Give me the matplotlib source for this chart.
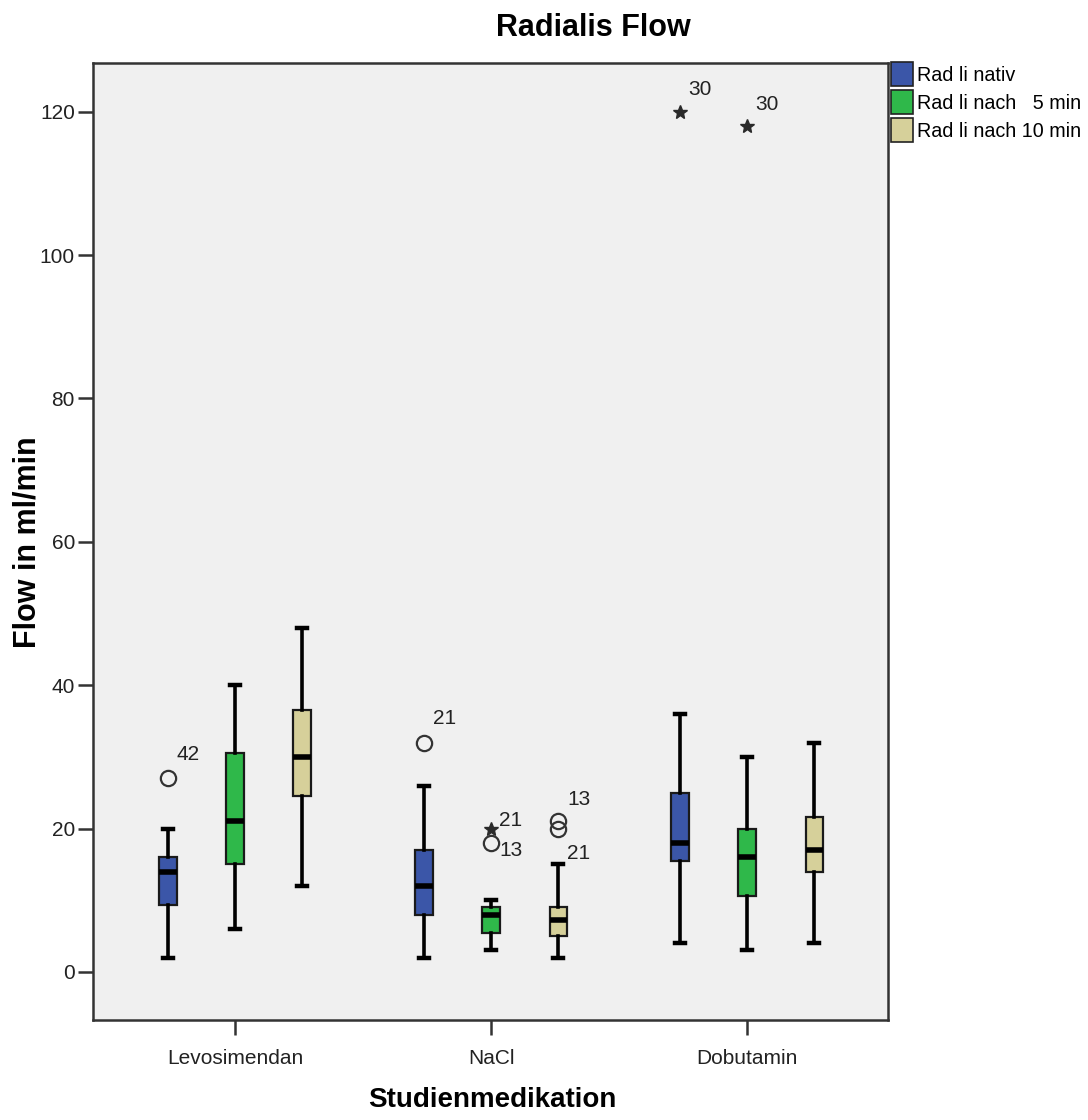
import matplotlib
matplotlib.use("Agg")
import matplotlib.pyplot as plt
from matplotlib.patches import Patch
from matplotlib import font_manager

plt.rcParams['font.family'] = ['Liberation Sans', 'DejaVu Sans']
installed = {f.name for f in font_manager.fontManager.ttflist}
narrow = 'Liberation Sans Narrow' if 'Liberation Sans Narrow' in installed else 'Liberation Sans'
tick_size = 17 if narrow == 'Liberation Sans Narrow' else 15

groups = ['Levosimendan', 'NaCl', 'Dobutamin']
series = ['Rad li nativ', 'Rad li nach   5 min', 'Rad li nach 10 min']
colors = ['#3b56a8', '#2fb84a', '#d6d09a']

# per series: one entry per group -> (whislo, q1, med, q3, whishi)
nativ = [(2, 9.4, 14, 16, 20), (2, 8, 12, 17, 26), (4, 15.5, 18, 25, 36)]
nach5 = [(6, 15, 21, 30.6, 40), (3, 5.5, 8, 9, 10), (3, 10.6, 16, 20, 30)]
nach10 = [(12, 24.5, 30, 36.6, 48), (2, 5, 7.2, 9, 15), (4, 14, 17, 21.6, 32)]
stats_all = [nativ, nach5, nach10]

# outliers: (group index, series index, value, kind, case label)
outliers = [
    (0, 0, 27, 'o', '42'),
    (1, 0, 32, 'o', '21'),
    (1, 1, 20, '*', '21'),
    (1, 1, 18, 'o', '13'),
    (1, 2, 21, 'o', '13'),
    (1, 2, 20, 'o', '21'),
    (2, 0, 120, '*', '30'),
    (2, 1, 118, '*', '30'),
]
label_offsets = [(8, 24), (9, 24), (8, 8), (8, -8), (9, 22), (9, -25), (8, 22), (8, 22)]

fig = plt.figure(figsize=(10.88, 11.2), dpi=100)
ax = fig.add_axes([93 / 1088, 1 - 1020 / 1120, 795 / 1088, 957 / 1120])
ax.set_facecolor('#f0f0f0')

offset = 0.262
width = 0.068
for s, st in enumerate(stats_all):
    bstats = []
    for g, (lo, q1, med, q3, hi) in enumerate(st):
        bstats.append({'whislo': lo, 'q1': q1, 'med': med, 'q3': q3, 'whishi': hi, 'fliers': []})
    pos = [g + 1 + (s - 1) * offset for g in range(len(groups))]
    ax.bxp(bstats, positions=pos, widths=width, patch_artist=True, showfliers=False,
           boxprops=dict(facecolor=colors[s], edgecolor='#1a1a1a', linewidth=1.6),
           medianprops=dict(color='black', linewidth=4),
           whiskerprops=dict(color='black', linewidth=2.6),
           capprops=dict(color='black', linewidth=3.2),
           capwidths=0.04)

for (g, s, v, kind, lab), (dx, dy) in zip(outliers, label_offsets):
    x = g + 1 + (s - 1) * offset
    if kind == 'o':
        ax.plot(x, v, 'o', ms=11, mfc='none', mec='#333333', mew=1.6)
    else:
        ax.plot(x, v, '*', ms=10, color='#2a2a2a')
    ax.annotate(lab, (x, v), xytext=(dx, dy), textcoords='offset pixels',
                ha='left', va='center', fontsize=15, color='#222222')

ax.set_xlim(0.445, 3.55)
ax.set_ylim(-6.7, 126.8)
ax.set_yticks([0, 20, 40, 60, 80, 100, 120])
ax.set_xticks([1, 2, 3])
ax.set_xticklabels(groups)
ax.tick_params(axis='both', labelsize=tick_size, length=11, width=1.8, color='#333333',
               labelcolor='#222222', pad=2)
ax.tick_params(axis='x', pad=10)
for lbl in ax.get_xticklabels() + ax.get_yticklabels():
    lbl.set_family([narrow, 'DejaVu Sans'])
for sp in ax.spines.values():
    sp.set_linewidth(1.8)
    sp.set_color('#333333')

fig.text(28 / 1088, 1 - 542 / 1120, 'Flow in ml/min', rotation=90, ha='center', va='center',
         fontsize=22, fontweight='bold')
fig.text(492 / 1088, 1 - 1100 / 1120, 'Studienmedikation', ha='center', va='center',
         fontsize=20, fontweight='bold')
fig.text(593 / 1088, 1 - 28 / 1120, 'Radialis Flow', ha='center', va='center',
         fontsize=22, fontweight='bold')

handles = [Patch(facecolor=c, edgecolor='#222222', linewidth=1.2) for c in colors]
fig.legend(handles, series, loc='upper left', bbox_to_anchor=(889 / 1088, 1 - 60 / 1120),
           frameon=False, fontsize=14.2, handlelength=1.1, handleheight=1.5,
           handletextpad=0.2, labelspacing=0.2, borderaxespad=0, borderpad=0.1)

fig.savefig('out.png', dpi=100)
